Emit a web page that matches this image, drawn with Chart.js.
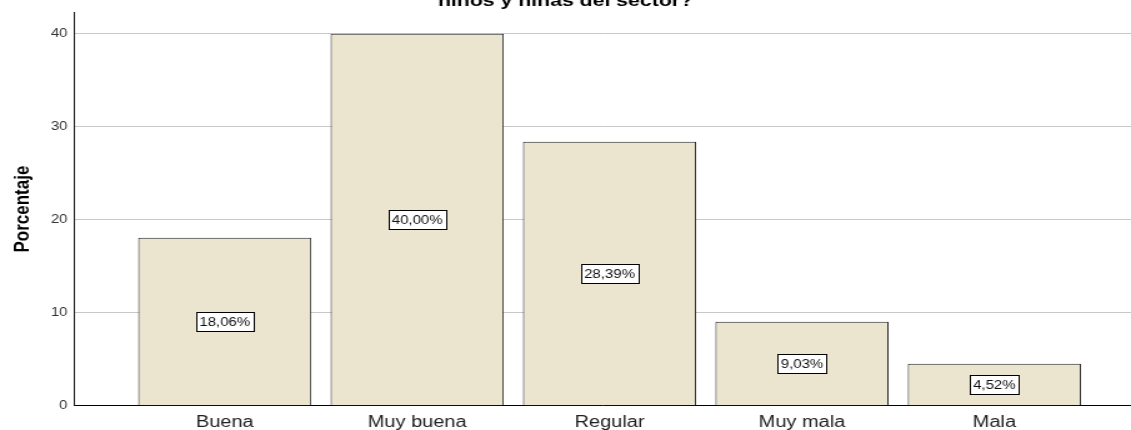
<!DOCTYPE html>
<html>
<head>
<meta charset="utf-8">
<script src="https://cdn.jsdelivr.net/npm/chart.js@4/dist/chart.umd.min.js"></script>
<style>
  body { margin: 0; background: #fff; }
  #wrap { width: 1131px; height: 430px; overflow: hidden; position: relative; }
  /* the original picture is stretched sideways, so draw narrow and widen */
  #box { position: absolute; left: 0; top: -12px; width: 905px; height: 451px;
         transform: scaleX(1.2497); transform-origin: 0 0; }
</style>
</head>
<body>
<div id="wrap"><div id="box"><canvas id="chart"></canvas></div></div>
<script>
// data
const categorias = ['Buena', 'Muy buena', 'Regular', 'Muy mala', 'Mala']
const porcentajes = [18.06, 40.00, 28.39, 9.03, 4.52]
const yTicks = [0, 10, 20, 30, 40]

const fmt = (v) => v.toFixed(2).replace('.', ',') + '%'

// white boxed labels in the middle of each bar
const barLabels = {
  id: 'barLabels',
  afterDatasetsDraw(chart) {
    const ctx = chart.ctx
    const meta = chart.getDatasetMeta(0)
    ctx.save()
    ctx.font = '12px "Liberation Sans", Arial, sans-serif'
    ctx.textAlign = 'center'
    ctx.textBaseline = 'middle'
    meta.data.forEach((bar, i) => {
      const txt = fmt(porcentajes[i])
      const cy = (bar.y + bar.base) / 2
      const w = Math.round(ctx.measureText(txt).width + 5)
      const h = 19
      const x0 = Math.round(bar.x - w / 2) + 0.5
      const y0 = Math.round(cy - h / 2) + 0.5
      ctx.fillStyle = '#fff'
      ctx.fillRect(x0, y0, w, h)
      ctx.strokeStyle = '#000'
      ctx.lineWidth = 1
      ctx.strokeRect(x0, y0, w, h)
      ctx.fillStyle = '#111'
      ctx.fillText(txt, bar.x, cy + 1)
    })
    ctx.restore()
  }
}

const chart = document.querySelector('#chart').getContext('2d')

new Chart(chart, {
  type: 'bar',
  data: {
    datasets: [{
      data: porcentajes.map((v, i) => ({ x: i, y: v })),
      backgroundColor: '#ebe4cf',
      borderColor: '#222',
      borderWidth: 1,
      barPercentage: 0.9,
      categoryPercentage: 1
    }]
  },
  plugins: [barLabels],
  options: {
    responsive: true,
    maintainAspectRatio: false,
    animation: false,
    layout: { padding: 0 },
    plugins: {
      legend: { display: false },
      tooltip: { enabled: false },
      title: {
        display: true,
        text: 'niños y niñas del sector?',
        color: '#000',
        font: { family: '"Liberation Sans", Arial, sans-serif', size: 17, weight: 'bold' },
        padding: { top: 3, bottom: 1 }
      }
    },
    scales: {
      x: {
        type: 'linear',
        offset: false,
        min: -0.785,
        max: 4.71,
        afterBuildTicks: (s) => { s.ticks = categorias.map((c, i) => ({ value: i })) },
        ticks: {
          callback: (v) => categorias[v],
          color: '#222',
          padding: 7,
          maxRotation: 0,
          font: { family: '"Liberation Sans", Arial, sans-serif', size: 16 }
        },
        grid: { display: false, drawTicks: false },
        border: { color: '#000', width: 1 }
      },
      y: {
        min: 0,
        max: 42.3,
        afterBuildTicks: (s) => { s.ticks = yTicks.map((v) => ({ value: v })) },
        afterFit: (s) => { s.width = 59 },
        ticks: {
          color: '#333',
          padding: 5,
          font: { family: '"Liberation Sans", Arial, sans-serif', size: 12 }
        },
        grid: { color: '#c8c8c8', drawTicks: false },
        border: { color: '#222', width: 1 },
        title: {
          display: true,
          text: 'Porcentaje',
          color: '#000',
          padding: { top: 8, bottom: 0 },
          font: { family: '"Liberation Sans", Arial, sans-serif', size: 17, weight: 'bold' }
        }
      }
    }
  }
})
</script>
</body>
</html>
